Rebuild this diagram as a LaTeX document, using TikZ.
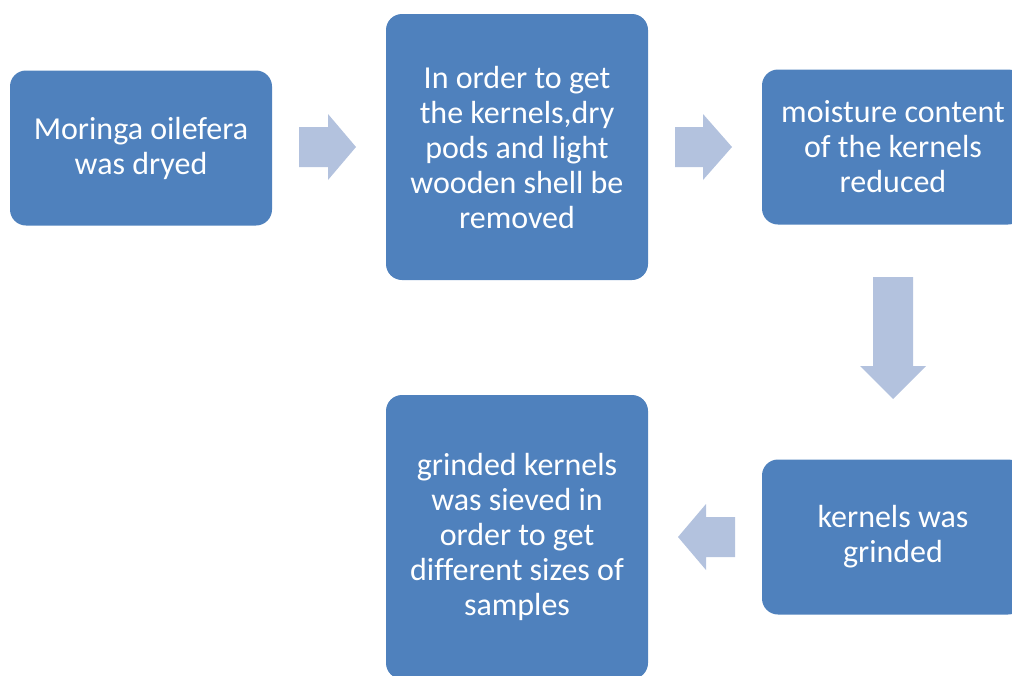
\documentclass[tikz,border=0pt]{standalone}
\usepackage{fontspec}
\setmainfont{Carlito}[Ligatures=NoCommon]
\definecolor{boxblue}{HTML}{4F81BD}
\definecolor{arrowblue}{HTML}{B3C2DE}
\tikzset{
  stepbox/.style={fill=boxblue, draw=none, rounded corners=16pt, text=white,
    align=center, inner sep=0pt, font=\fontsize{32}{35}\selectfont},
  flowarrow/.style={fill=arrowblue, draw=none}
}
\begin{document}
\begin{tikzpicture}[x=1pt,y=-1pt]
\useasboundingbox (0,0) rectangle (1012,675);
\clip (0,0) rectangle (1012,675);
\node[stepbox, minimum width=262pt, minimum height=155pt] (b1) at (141,148)
  {Moringa oilefera\\was dryed};
\node[stepbox, minimum width=262pt, minimum height=266pt] (b2) at (517,147)
  {In order to get\\the kernels,dry\\pods and light\\wooden shell be\\removed};
\node[stepbox, minimum width=262pt, minimum height=155pt] (b3) at (893,147)
  {moisture content\\of the kernels\\reduced};
\node[stepbox, minimum width=262pt, minimum height=155pt] (b4) at (893,537)
  {kernels was\\grinded};
\node[stepbox, minimum width=262pt, minimum height=284pt] (b5) at (517,537)
  {grinded kernels\\was sieved in\\order to get\\different sizes of\\samples};
% block arrows
\fill[flowarrow] (299,127) -- (328,127) -- (328,114) -- (356,147) -- (328,180) -- (328,167) -- (299,167) -- cycle;
\fill[flowarrow] (675,127) -- (703,127) -- (703,114) -- (732,147) -- (703,180) -- (703,167) -- (675,167) -- cycle;
\fill[flowarrow] (873,277) -- (913,277) -- (913,366) -- (926,366) -- (893,399) -- (860,366) -- (873,366) -- cycle;
\fill[flowarrow] (735,517) -- (706,517) -- (706,504) -- (678,537) -- (706,570) -- (706,557) -- (735,557) -- cycle;
\end{tikzpicture}
\end{document}
